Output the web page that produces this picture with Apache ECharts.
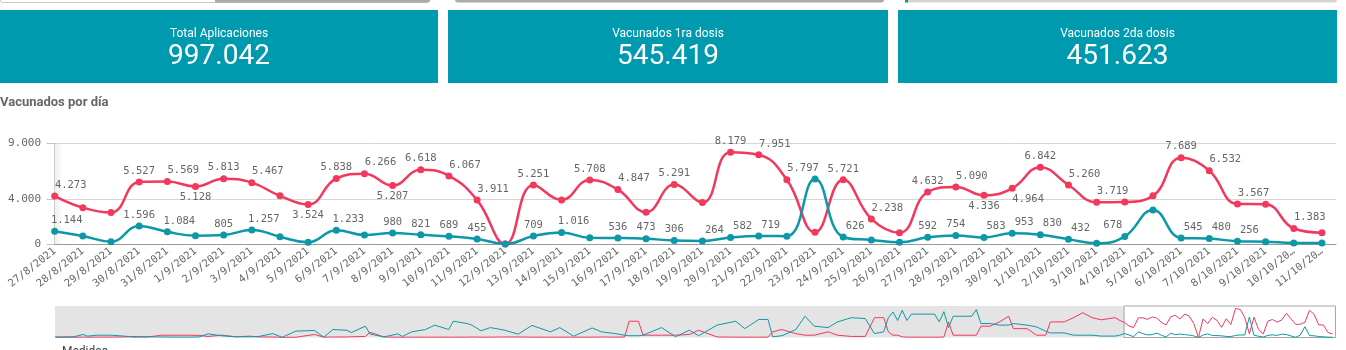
<!DOCTYPE html>
<html>
<head>
<meta charset="utf-8">
<script src="https://cdn.jsdelivr.net/npm/echarts@6/dist/echarts.min.js"></script>
<style>
  html, body { margin: 0; padding: 0; background: #fff; overflow: hidden; }
  #chart { width: 1346px; height: 350px; }
</style>
</head>
<body>
<div id="chart"></div>
<script>
// ---- Daily figures shown in the main chart ----
const dayLabels = [
  '27/8/2021', '28/8/2021', '29/8/2021', '30/8/2021', '31/8/2021',
  '1/9/2021', '2/9/2021', '3/9/2021', '4/9/2021', '5/9/2021', '6/9/2021', '7/9/2021', '8/9/2021',
  '9/9/2021', '10/9/2021', '11/9/2021', '12/9/2021', '13/9/2021', '14/9/2021', '15/9/2021',
  '16/9/2021', '17/9/2021', '18/9/2021', '19/9/2021', '20/9/2021', '21/9/2021', '22/9/2021',
  '23/9/2021', '24/9/2021', '25/9/2021', '26/9/2021', '27/9/2021', '28/9/2021', '29/9/2021',
  '30/9/2021', '1/10/2021', '2/10/2021', '3/10/2021', '4/10/2021', '5/10/2021', '6/10/2021',
  '7/10/2021', '8/10/2021', '9/10/2021', '10/10/2021', '11/10/2021'
];

// second doses per day (red)
const secondDose = [
  4273, 3240, 2800, 5527, 5569,
  5128, 5813, 5467, 4290, 3524, 5838, 6266, 5207,
  6618, 6067, 3911, 0, 5251, 3930, 5708,
  4847, 2830, 5291, 3690, 8179, 7951, 5720,
  1050, 5721, 2238, 1010, 4632, 5090, 4336,
  4964, 6842, 5260, 3719, 3740, 4290, 7689,
  6532, 3567, 3540, 1383, 1010
];

// first doses per day (teal)
const firstDose = [
  1144, 710, 210, 1596, 1084,
  740, 805, 1257, 650, 150, 1233, 800, 980,
  821, 689, 455, 0, 709, 1016, 550,
  536, 473, 306, 264, 582, 719, 700,
  5797, 626, 357, 150, 592, 754, 583,
  953, 830, 432, 60, 678, 3040, 545,
  480, 256, 210, 90, 90
];

// where each value label sits: '' none, t above, r above-right, l above-left, b below, br below-right
const secondDoseLabelPlace = [
  'r', '', '', 't', 'r',
  'b', 't', 'r', '', 'b', 't', 'r', 'b',
  't', 'r', 'r', '', 't', '', 't',
  'r', '', 't', '', 't', 'r', '',
  '', 't', 'r', '', 't', 'r', 'b',
  'br', 't', 'r', 'r', '', '', 't',
  'r', 'r', '', 'r', ''
];
const firstDoseLabelPlace = [
  'r', '', '', 't', 'r',
  '', 't', 'r', '', '', 'r', '', 't',
  't', 't', 't', '', 't', 'r', '',
  't', 't', 't', 'r', 'r', 'r', '',
  'l', 'r', '', '', 't', 't', 'r',
  'r', 'r', 'r', '', 'l', '', 'r',
  'r', 'r', '', '', ''
];

const yTicks = [0, 4000, 9000];

// ---- Headline figures ----
const kpiTitles = ['Total Aplicaciones', 'Vacunados 1ra dosis', 'Vacunados 2da dosis'];
const kpiValues = [997042, 545419, 451623];

// ---- Earlier history, shown only in the overview strip ----
const earlyDays = [
  '8/1/2021', '12/1/2021', '14/1/2021', '15/1/2021', '17/1/2021', '20/1/2021', '23/1/2021', '25/1/2021', '28/1/2021', '31/1/2021',
  '5/2/2021', '8/2/2021', '10/2/2021', '13/2/2021', '16/2/2021', '19/2/2021', '21/2/2021', '24/2/2021', '26/2/2021',
  '1/3/2021', '5/3/2021', '7/3/2021', '9/3/2021', '12/3/2021', '13/3/2021', '16/3/2021', '17/3/2021', '20/3/2021', '23/3/2021', '24/3/2021', '26/3/2021', '29/3/2021', '31/3/2021',
  '3/4/2021', '4/4/2021', '7/4/2021', '8/4/2021', '10/4/2021', '12/4/2021', '15/4/2021', '18/4/2021', '21/4/2021', '25/4/2021', '27/4/2021', '30/4/2021',
  '4/5/2021', '6/5/2021', '9/5/2021', '11/5/2021', '12/5/2021', '14/5/2021', '15/5/2021', '19/5/2021', '22/5/2021', '25/5/2021', '27/5/2021', '31/5/2021',
  '4/6/2021', '6/6/2021', '9/6/2021', '11/6/2021', '12/6/2021', '14/6/2021', '17/6/2021', '19/6/2021', '21/6/2021', '24/6/2021', '26/6/2021', '29/6/2021',
  '2/7/2021', '4/7/2021', '6/7/2021', '7/7/2021', '8/7/2021', '9/7/2021', '10/7/2021', '11/7/2021', '12/7/2021', '15/7/2021', '17/7/2021', '18/7/2021', '19/7/2021', '20/7/2021', '21/7/2021', '23/7/2021', '25/7/2021', '26/7/2021', '27/7/2021', '29/7/2021', '31/7/2021',
  '2/8/2021', '3/8/2021', '6/8/2021', '8/8/2021', '10/8/2021', '11/8/2021', '14/8/2021', '16/8/2021', '18/8/2021', '20/8/2021', '22/8/2021', '25/8/2021', '26/8/2021'
];
const earlyFirstDose = [
  150, 200, 850, 380, 650, 650, 380, 100, 200, 150,
  100, 150, 1030, 480, 200, 200, 300, 1100, 50,
  1800, 2000, 100, 2250, 2050, 1400, 3200, 1000, 150, 1030, 300, 1600, 2250, 3500,
  2250, 4600, 3950, 3500, 1900, 2800, 2100, 950, 3400, 1600, 2800, 380,
  2700, 1600, 1100, 650, 500, 500, 650, 2800, 200, 2050, 500, 3500,
  4600, 2500, 5100, 5100, 200, 500, 2250, 6000, 3200, 2800, 4400, 5600,
  5350, 1100, 1600, 5600, 7200, 4800, 7700, 4800, 6600, 6600, 6600, 4400, 7300, 2800, 6000, 6000, 6000, 7900, 3950, 3950, 3500,
  3500, 3950, 3500, 3000, 1800, 1300, 1300, 650, 650, 650, 400, 400, 650
];
const earlySecondDose = [
  50, 80, 100, 100, 100, 120, 150, 280, 150, 650,
  650, 600, 300, 650, 200, 380, 150, 150, 50,
  80, 850, 100, 150, 150, 200, 300, 1500, 150, 80, 80, 100, 100, 100,
  100, 100, 100, 150, 100, 100, 150, 150, 100, 100, 100, 100,
  100, 150, 100, 150, 4600, 4600, 650, 650, 650, 850, 2050, 150,
  100, 100, 100, 100, 1600, 2250, 1100, 650, 650, 1600, 650, 300,
  300, 5600, 5600, 1600, 650, 650, 200, 100, 100, 100, 100, 100, 150, 4400, 650, 650, 650, 650, 3200, 3200, 4400,
  6000, 2500, 2500, 650, 650, 4400, 4400, 5600, 7000, 5600, 5000, 5600, 4800
];

// ---- Helpers ----
const RED = '#f2385d';
const TEAL = '#0d98a8';
const BOX = '#009aae';
const MONO = '"DejaVu Sans Mono", monospace';
const SANS = 'Roboto, "Open Sans", sans-serif';
const DAY = 86400000;

function fmt(n) {
  return String(Math.round(n)).replace(/\B(?=(\d{3})+(?!\d))/g, '.');
}
function parseDay(s) {
  const [d, m, y] = s.split('/').map(Number);
  return new Date(y, m - 1, d).getTime();
}
function shortLabel(s) {
  return s.length > 9 ? s.slice(0, 8) + '…' : s;
}
function labelFor(code, shift) {
  if (!code) return { show: false };
  let dx = 0;
  if (code.endsWith('r')) dx = shift;
  if (code.endsWith('l')) dx = -shift;
  return { show: true, position: code[0] === 'b' ? 'bottom' : 'top', offset: [dx, 0] };
}
function mainData(values, places, shift) {
  return values.map((v, i) => ({ value: [i, v], label: labelFor(places[i], shift) }));
}
function overviewData(early, dates, recent) {
  const pts = early.map((v, i) => [parseDay(dates[i]), v]);
  recent.forEach((v, i) => pts.push([parseDay(dayLabels[i]), v]));
  return pts;
}

const firstDay = parseDay(dayLabels[0]);

// ---- Headline boxes and page decorations ----
const boxes = [[0, 438], [448, 888], [898, 1337]];
const graphics = [
  { type: 'rect', shape: { x: 0, y: -4, width: 430, height: 6.5, r: 3 }, style: { fill: '#fff', stroke: '#c8c8c8', lineWidth: 1 } },
  { type: 'rect', shape: { x: 215, y: -4, width: 215, height: 6.5, r: [0, 3, 3, 0] }, style: { fill: '#a9a9a9' } },
  { type: 'rect', shape: { x: 455, y: -4, width: 429, height: 6.5, r: 3 }, style: { fill: '#ababab' } },
  { type: 'rect', shape: { x: 905, y: -4, width: 432, height: 6.5, r: 3 }, style: { fill: '#d5d5d5' } },
  { type: 'rect', shape: { x: 905, y: -4, width: 3, height: 6.5 }, style: { fill: '#22a04a' } },
  {
    type: 'rect', shape: { x: 54, y: 143, width: 9, height: 101 },
    style: { fill: new echarts.graphic.LinearGradient(0, 0, 1, 0, [
      { offset: 0, color: 'rgba(0,0,0,0.07)' }, { offset: 1, color: 'rgba(0,0,0,0)' }
    ]) }
  },
  { type: 'text', left: 62, top: 346, style: { text: 'Medidas', font: '12px ' + SANS, fill: '#404040' } }
];
boxes.forEach(([x0, x1], i) => {
  const cx = (x0 + x1) / 2;
  graphics.push(
    { type: 'rect', shape: { x: x0, y: 10, width: x1 - x0, height: 73 }, style: { fill: BOX } },
    { type: 'text', x: cx, y: 34, style: { text: kpiTitles[i], font: '12px ' + SANS, fill: '#fff', align: 'center', verticalAlign: 'middle' } },
    { type: 'text', x: cx, y: 57, style: { text: fmt(kpiValues[i]), font: '28px ' + SANS, fill: '#fff', align: 'center', verticalAlign: 'middle' } }
  );
});

const chart = echarts.init(document.getElementById('chart'), null, { renderer: 'canvas' });

chart.setOption({
  animation: false,
  backgroundColor: '#fff',
  title: {
    text: 'Vacunados por día',
    left: 0, top: 96, padding: 0,
    textStyle: { fontFamily: SANS, fontSize: 13, fontWeight: 'bold', color: '#666' }
  },
  graphic: graphics,
  grid: [
    { left: 53, right: 10, top: 143, height: 101 },
    { left: 55, right: 10, top: 306, height: 31.5, show: true, backgroundColor: '#e4e4e4', borderWidth: 0 }
  ],
  xAxis: [
    {
      type: 'value', gridIndex: 0, min: -0.06, max: 45.5,
      axisLine: { show: true, onZero: false, lineStyle: { color: '#9a9a9a', width: 1 } },
      axisTick: { show: false },
      splitLine: { show: false },
      axisLabel: {
        customValues: dayLabels.map((_, i) => i),
        rotate: 38, margin: 6,
        fontFamily: MONO, fontSize: 10.5, color: '#666',
        formatter: v => shortLabel(dayLabels[v] || '')
      }
    },
    {
      type: 'time', gridIndex: 1,
      min: firstDay - 231.06 * DAY, max: firstDay + 45.72 * DAY,
      show: false
    }
  ],
  yAxis: [
    {
      type: 'value', gridIndex: 0, min: 0, max: 9000,
      axisLine: { show: true, lineStyle: { color: '#cfcfcf' } },
      axisTick: { show: true, length: 8, customValues: yTicks, lineStyle: { color: '#c4c4c4' } },
      axisLabel: { customValues: yTicks, margin: 12, fontFamily: MONO, fontSize: 11, color: '#666', formatter: v => fmt(v) },
      splitLine: { show: true, lineStyle: { color: '#d6d6d6', width: 1 } }
    },
    { type: 'value', gridIndex: 1, min: 0, max: 8900, show: false }
  ],
  series: [
    {
      name: 'Vacunados 2da dosis', type: 'line', xAxisIndex: 0, yAxisIndex: 0,
      data: mainData(secondDose, secondDoseLabelPlace, 16),
      smooth: 0.45, symbol: 'circle', symbolSize: 7,
      lineStyle: { color: RED, width: 2.5 }, itemStyle: { color: RED, borderWidth: 0 },
      label: { show: true, distance: 2, fontFamily: MONO, fontSize: 10.5, color: '#666', formatter: p => fmt(p.value[1]) },
      z: 3
    },
    {
      name: 'Vacunados 1ra dosis', type: 'line', xAxisIndex: 0, yAxisIndex: 0,
      data: mainData(firstDose, firstDoseLabelPlace, 12),
      smooth: 0.45, symbol: 'circle', symbolSize: 7,
      lineStyle: { color: TEAL, width: 2.5 }, itemStyle: { color: TEAL, borderWidth: 0 },
      label: { show: true, distance: 2, fontFamily: MONO, fontSize: 10.5, color: '#666', formatter: p => fmt(p.value[1]) },
      z: 4
    },
    {
      name: 'overview 2da', type: 'line', xAxisIndex: 1, yAxisIndex: 1, silent: true,
      data: overviewData(earlySecondDose, earlyDays, secondDose),
      symbol: 'none', lineStyle: { color: RED, width: 1 },
      markArea: {
        silent: true,
        itemStyle: { color: '#fff', borderColor: '#a6a6a6', borderWidth: 1 },
        data: [[{ xAxis: firstDay - 0.06 * DAY }, { xAxis: firstDay + 45.6 * DAY }]]
      }
    },
    {
      name: 'overview 1ra', type: 'line', xAxisIndex: 1, yAxisIndex: 1, silent: true,
      data: overviewData(earlyFirstDose, earlyDays, firstDose),
      symbol: 'none', lineStyle: { color: TEAL, width: 1 }
    }
  ]
});
</script>
</body>
</html>
